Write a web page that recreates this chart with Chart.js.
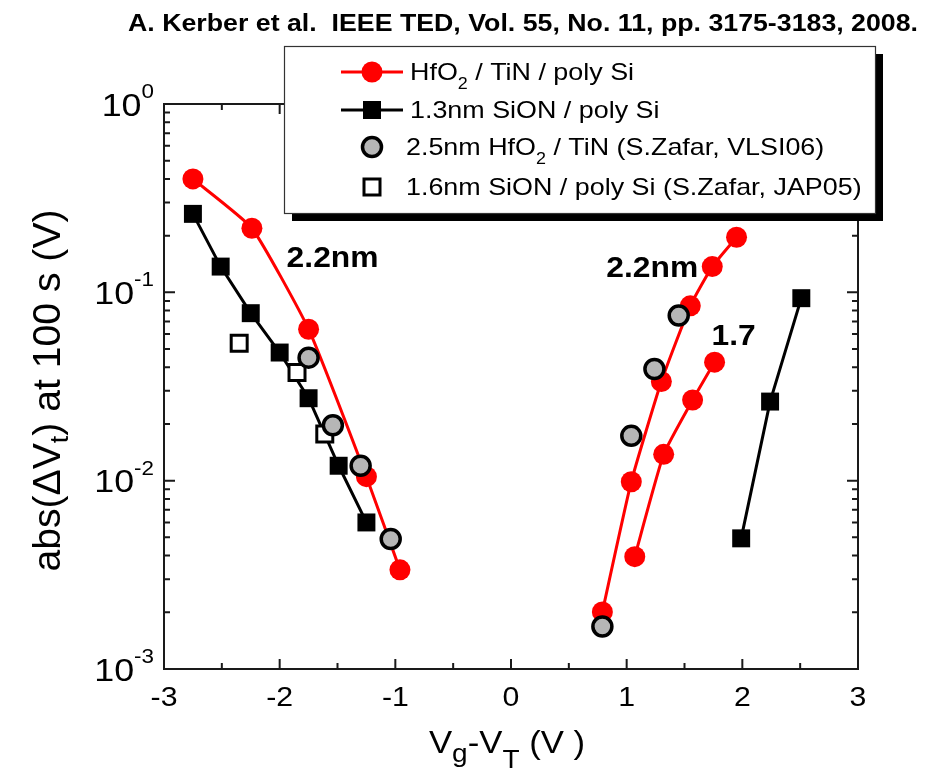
<!DOCTYPE html>
<html><head><meta charset="utf-8">
<script src="https://cdn.jsdelivr.net/npm/chart.js@4.4.1/dist/chart.umd.min.js"></script>
<style>html,body{margin:0;padding:0;background:#fff;}canvas{display:block;}</style>
</head><body>
<canvas id="c" width="928" height="772"></canvas>
<script>
// ---------------- data ----------------
const hfo2NegVg   = [-2.75, -2.24, -1.75, -1.25, -0.96];
const hfo2NegDvt  = [0.400, 0.219, 0.0637, 0.0105, 0.00336];
const hfo2Pos22Vg  = [0.79, 1.04, 1.30, 1.55, 1.74, 1.95];
const hfo2Pos22Dvt = [0.00201, 0.00987, 0.0336, 0.0848, 0.137, 0.196];
const hfo2Pos17Vg  = [1.07, 1.32, 1.57, 1.76];
const hfo2Pos17Dvt = [0.00395, 0.0138, 0.0268, 0.0426];
const sionNegVg  = [-2.75, -2.51, -2.25, -2.00, -1.75, -1.49, -1.25];
const sionNegDvt = [0.261, 0.137, 0.0775, 0.0479, 0.0274, 0.0120, 0.0060];
const sionPosVg  = [1.99, 2.24, 2.51];
const sionPosDvt = [0.00494, 0.0263, 0.0931];
const zafarHfo2Vg  = [-1.75, -1.54, -1.30, -1.04, 0.79, 1.04, 1.24, 1.45];
const zafarHfo2Dvt = [0.0450, 0.0197, 0.0120, 0.0049, 0.00168, 0.0173, 0.0392, 0.0753];
const zafarSionVg  = [-2.35, -1.85, -1.61];
const zafarSionDvt = [0.0537, 0.0375, 0.0177];

const xMajorTicks = [-3, -2, -1, 0, 1, 2, 3];
const xMinorTicks = [-2.5, -1.5, -0.5, 0.5, 1.5, 2.5];
const yDecadeExponents = [0, -1, -2, -3];

const titleText = "A. Kerber et al.  IEEE TED, Vol. 55, No. 11, pp. 3175-3183, 2008.";
const legendRows = [
  [["HfO", 0], ["2", 1], [" / TiN / poly Si", 0]],
  [["1.3nm SiON / poly Si", 0]],
  [["2.5nm HfO", 0], ["2", 1], [" / TiN (S.Zafar, VLSI06)", 0]],
  [["1.6nm SiON / poly Si (S.Zafar, JAP05)", 0]]
];
const annotations = [
  {text: "2.2nm", vg: -1.94, dvt: 0.136},
  {text: "2.2nm", vg: 0.824, dvt: 0.1205},
  {text: "1.7", vg: 1.733, dvt: 0.0524}
];

// ---------------- helpers ----------------
const FONT = '"Liberation Sans", Arial, Helvetica, sans-serif';
const RED = '#ff0000';
const GREY = '#b6b6b6';
const pts = (xs, ys) => xs.map((x, i) => ({x: x, y: ys[i]}));

function drawSegs(ctx, segs, x, y, align, sx) {
  let total = 0;
  const widths = segs.map(s => {
    ctx.font = (s.bold ? 'bold ' : '') + s.size + 'px ' + FONT;
    const w = ctx.measureText(s.t).width; total += w; return w;
  });
  let cx = align === 'center' ? -total / 2 : (align === 'right' ? -total : 0);
  ctx.save();
  ctx.translate(x, y);
  ctx.scale(sx, 1);
  ctx.textAlign = 'left';
  ctx.textBaseline = 'alphabetic';
  segs.forEach((s, i) => {
    ctx.font = (s.bold ? 'bold ' : '') + s.size + 'px ' + FONT;
    ctx.fillText(s.t, cx, s.dy || 0);
    cx += widths[i];
  });
  ctx.restore();
  return total * sx;
}

function marker(ctx, style, x, y) {
  ctx.save();
  if (style === 'redCircle') {
    ctx.fillStyle = RED; ctx.beginPath(); ctx.arc(x, y, 10.5, 0, Math.PI * 2); ctx.fill();
  } else if (style === 'blackSquare') {
    ctx.fillStyle = '#000'; ctx.fillRect(x - 9, y - 9, 18, 18);
  } else if (style === 'greyCircle') {
    ctx.fillStyle = GREY; ctx.strokeStyle = '#000'; ctx.lineWidth = 3.5;
    ctx.beginPath(); ctx.arc(x, y, 9.5, 0, Math.PI * 2); ctx.fill(); ctx.stroke();
  } else if (style === 'openSquare') {
    ctx.fillStyle = '#fff'; ctx.strokeStyle = '#000'; ctx.lineWidth = 3;
    ctx.fillRect(x - 8, y - 8, 16, 16); ctx.strokeRect(x - 8, y - 8, 16, 16);
  }
  ctx.restore();
}

const decorPlugin = {
  id: 'decor',
  afterDraw(chart) {
    const ctx = chart.ctx;
    const xs = chart.scales.x, ys = chart.scales.y;
    const a = chart.chartArea;
    ctx.save();
    ctx.fillStyle = '#000';
    ctx.strokeStyle = '#1a1a1a';
    // frame
    ctx.lineWidth = 2;
    ctx.strokeRect(a.left, a.top, a.right - a.left, a.bottom - a.top);
    ctx.beginPath();
    xMajorTicks.forEach(v => {
      const p = xs.getPixelForValue(v);
      ctx.moveTo(p, a.bottom); ctx.lineTo(p, a.bottom - 10);
      ctx.moveTo(p, a.top); ctx.lineTo(p, a.top + 10);
    });
    xMinorTicks.forEach(v => {
      const p = xs.getPixelForValue(v);
      ctx.moveTo(p, a.bottom); ctx.lineTo(p, a.bottom - 6);
      ctx.moveTo(p, a.top); ctx.lineTo(p, a.top + 6);
    });
    yDecadeExponents.forEach(k => {
      const p = ys.getPixelForValue(Math.pow(10, k));
      ctx.moveTo(a.left, p); ctx.lineTo(a.left + 11, p);
      ctx.moveTo(a.right, p); ctx.lineTo(a.right - 11, p);
      if (k > -3) {
        for (let m = 2; m <= 9; m++) {
          const q = ys.getPixelForValue(m * Math.pow(10, k - 1));
          ctx.moveTo(a.left, q); ctx.lineTo(a.left + 6, q);
          ctx.moveTo(a.right, q); ctx.lineTo(a.right - 6, q);
        }
      }
    });
    ctx.stroke();

    // x tick labels
    xMajorTicks.forEach(v => {
      drawSegs(ctx, [{t: String(v), size: 27}], xs.getPixelForValue(v), a.bottom + 37, 'center', 1.12);
    });
    // y tick labels 10^k
    yDecadeExponents.forEach(k => {
      const p = ys.getPixelForValue(Math.pow(10, k));
      ctx.font = '32px ' + FONT; const w1 = ctx.measureText('10').width;
      ctx.font = '20px ' + FONT; const w2 = ctx.measureText(String(k)).width;
      const sx = 1.12;
      const x0 = 154 - (w1 + w2) * sx;
      drawSegs(ctx, [{t: '10', size: 32}], x0, p + 11.5, 'left', sx);
      drawSegs(ctx, [{t: String(k), size: 20}], x0 + w1 * sx, p - 6, 'left', sx);
    });

    // axis titles
    drawSegs(ctx, [
      {t: 'V', size: 31}, {t: 'g', size: 25, dy: 9}, {t: '-V', size: 31},
      {t: 'T', size: 25, dy: 15}, {t: ' (V )', size: 31}
    ], (a.left + a.right) / 2 - 4, a.bottom + 84, 'center', 1.12);
    ctx.save();
    ctx.translate(60, (a.top + a.bottom) / 2 + 4);
    ctx.rotate(-Math.PI / 2);
    drawSegs(ctx, [
      {t: 'abs(\u0394V', size: 38}, {t: 't', size: 26, dy: 8}, {t: ') at 100 s (V)', size: 38}
    ], 0, 0, 'center', 1.03);
    ctx.restore();

    // annotations
    annotations.forEach(an => {
      drawSegs(ctx, [{t: an.text, size: 30, bold: true}], xs.getPixelForValue(an.vg), ys.getPixelForValue(an.dvt), 'left', 1.06);
    });

    // title (narrow bold)
    ctx.font = 'bold 23px ' + FONT;
    const tw = ctx.measureText(titleText).width;
    drawSegs(ctx, [{t: titleText, size: 23, bold: true}], 128, 31, 'left', 790 / tw);

    // legend box with shadow
    const L = 284, T = 46, W = 591, H = 167;
    ctx.fillStyle = '#000';
    ctx.fillRect(L + 8, T + 8, W, H);
    ctx.fillStyle = '#fff';
    ctx.fillRect(L, T, W, H);
    ctx.lineWidth = 1.2; ctx.strokeStyle = '#333';
    ctx.strokeRect(L + 0.5, T + 0.5, W, H);
    const rowY = [72, 110, 147, 187];
    const styles = ['redCircle', 'blackSquare', 'greyCircle', 'openSquare'];
    const lineCol = [RED, '#000', null, null];
    const textX = [410, 410, 406, 406];
    rowY.forEach((yy, i) => {
      if (lineCol[i]) {
        ctx.strokeStyle = lineCol[i]; ctx.lineWidth = 3;
        ctx.beginPath(); ctx.moveTo(341, yy); ctx.lineTo(403, yy); ctx.stroke();
      }
      marker(ctx, styles[i], 372, yy);
      ctx.fillStyle = '#000';
      const segs = legendRows[i].map(s => s[1] ? {t: s[0], size: 16, dy: 9} : {t: s[0], size: 24});
      drawSegs(ctx, segs, textX[i], yy + 8, 'left', 1.12);
    });
    ctx.restore();
  }
};

const redLine = {showLine: true, borderColor: RED, borderWidth: 3, tension: 0.15,
  pointRadius: 10.5, pointBackgroundColor: RED, pointBorderColor: RED, pointBorderWidth: 0, order: 2};
const blackLine = {showLine: true, borderColor: '#000', borderWidth: 3, tension: 0,
  pointStyle: 'rect', pointRadius: 12.7, pointBackgroundColor: '#000', pointBorderColor: '#000', pointBorderWidth: 0, order: 3};

new Chart(document.getElementById('c'), {
  type: 'scatter',
  data: {
    datasets: [
      {label: '2.5nm HfO2 / TiN (S.Zafar, VLSI06)', data: pts(zafarHfo2Vg, zafarHfo2Dvt), showLine: false,
        pointRadius: 9.5, pointBackgroundColor: GREY, pointBorderColor: '#000', pointBorderWidth: 3.5, order: 0},
      {label: '1.6nm SiON / poly Si (S.Zafar, JAP05)', data: pts(zafarSionVg, zafarSionDvt), showLine: false,
        pointStyle: 'rect', pointRadius: 11.3, pointBackgroundColor: '#fff', pointBorderColor: '#000', pointBorderWidth: 3, order: 1},
      Object.assign({label: 'HfO2 / TiN / poly Si', data: pts(hfo2NegVg, hfo2NegDvt)}, redLine),
      Object.assign({label: 'HfO2 2.2nm +', data: pts(hfo2Pos22Vg, hfo2Pos22Dvt)}, redLine),
      Object.assign({label: 'HfO2 1.7nm +', data: pts(hfo2Pos17Vg, hfo2Pos17Dvt)}, redLine),
      Object.assign({label: '1.3nm SiON / poly Si', data: pts(sionNegVg, sionNegDvt)}, blackLine),
      Object.assign({label: '1.3nm SiON +', data: pts(sionPosVg, sionPosDvt)}, blackLine)
    ]
  },
  options: {
    responsive: false,
    animation: false,
    devicePixelRatio: 1,
    events: [],
    layout: {padding: {top: 104, right: 70, left: 0, bottom: 0}},
    plugins: {legend: {display: false}, tooltip: {enabled: false}, title: {display: false}},
    scales: {
      x: {type: 'linear', min: -3, max: 3, ticks: {display: false}, grid: {display: false}, border: {display: false},
        afterFit(s) { s.height = 103; }},
      y: {type: 'logarithmic', min: 0.001, max: 1, ticks: {display: false}, grid: {display: false}, border: {display: false},
        afterFit(s) { s.width = 164; }}
    }
  },
  plugins: [decorPlugin]
});
</script>
</body></html>
